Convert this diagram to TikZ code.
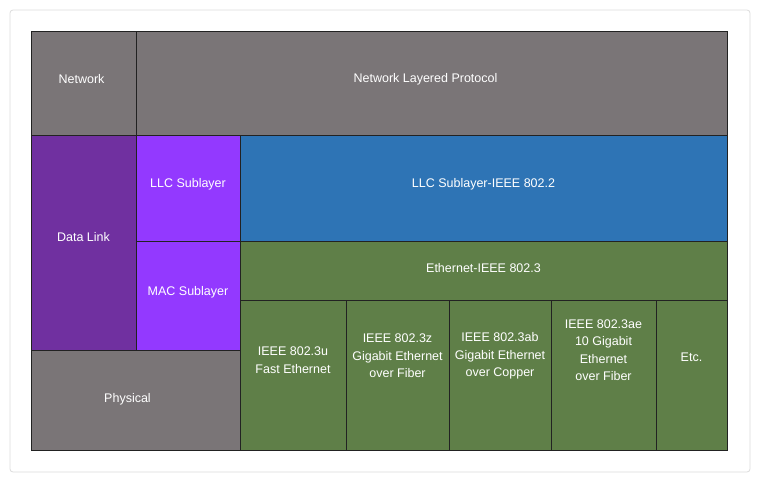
\documentclass[tikz,border=0pt]{standalone}
\usepackage{fontspec}
\setmainfont{Liberation Sans}
\definecolor{framegray}{HTML}{DCDCDC}
\definecolor{cellline}{HTML}{222222}
\definecolor{layergray}{HTML}{7A7577}
\definecolor{linkpurple}{HTML}{7030A0}
\definecolor{subpurple}{HTML}{9339FF}
\definecolor{llcblue}{HTML}{2E74B5}
\definecolor{ethgreen}{HTML}{5F7F48}
\begin{document}
\begin{tikzpicture}[x=1pt,y=-1pt,
  cell/.style={draw=cellline, line width=0.9pt},
  lbl/.style={text=white, font=\fontsize{12.5}{17.5}\selectfont, align=center, inner sep=0pt}]
\useasboundingbox (0,0) rectangle (760,482);
% outer panel
\draw[draw=framegray, fill=white, rounded corners=3pt, line width=0.8pt] (10,10) rectangle (750,472);

% OSI layers and sublayers
\path[cell, fill=layergray] (31,31) rectangle (136,135);
\path[cell, fill=layergray] (136,31) rectangle (727,135);
\path[cell, fill=linkpurple] (31,135) rectangle (136,350);
\path[cell, fill=subpurple] (136,135) rectangle (240,241);
\path[cell, fill=subpurple] (136,241) rectangle (240,350);
\path[cell, fill=llcblue] (240,135) rectangle (727,241);
\path[cell, fill=ethgreen] (240,241) rectangle (727,300);
\path[cell, fill=layergray] (31,350) rectangle (240,450);

% Ethernet standards
\path[cell, fill=ethgreen] (240,300) rectangle (346,450);
\path[cell, fill=ethgreen] (346,300) rectangle (449,450);
\path[cell, fill=ethgreen] (449,300) rectangle (551,450);
\path[cell, fill=ethgreen] (551,300) rectangle (656,450);
\path[cell, fill=ethgreen] (656,300) rectangle (727,450);

% labels
\node[lbl] (network) at (81.5,79) {Network};
\node[lbl] (nlp) at (425.5,79) {Network Layered Protocol};
\node[lbl] (datalink) at (83.5,237) {Data Link};
\node[lbl] (llc) at (188,184) {LLC Sublayer};
\node[lbl] (mac) at (188,292) {MAC Sublayer};
\node[lbl] (llc8022) at (483.5,184) {LLC Sublayer-IEEE 802.2};
\node[lbl] (eth8023) at (483.5,268) {Ethernet-IEEE 802.3};
\node[lbl] (physical) at (127.5,399) {Physical};
\node[lbl] (std3u) at (293,360) {IEEE 802.3u\\Fast Ethernet};
\node[lbl] (std3z) at (397.5,356) {IEEE 802.3z\\Gigabit Ethernet\\over Fiber};
\node[lbl] (std3ab) at (500,356) {IEEE 802.3ab\\Gigabit Ethernet\\over Copper};
\node[lbl] (std3ae) at (603.5,350) {IEEE 802.3ae\\10 Gigabit\\Ethernet\\over Fiber};
\node[lbl] (etc) at (691.5,357) {Etc.};
\end{tikzpicture}
\end{document}
